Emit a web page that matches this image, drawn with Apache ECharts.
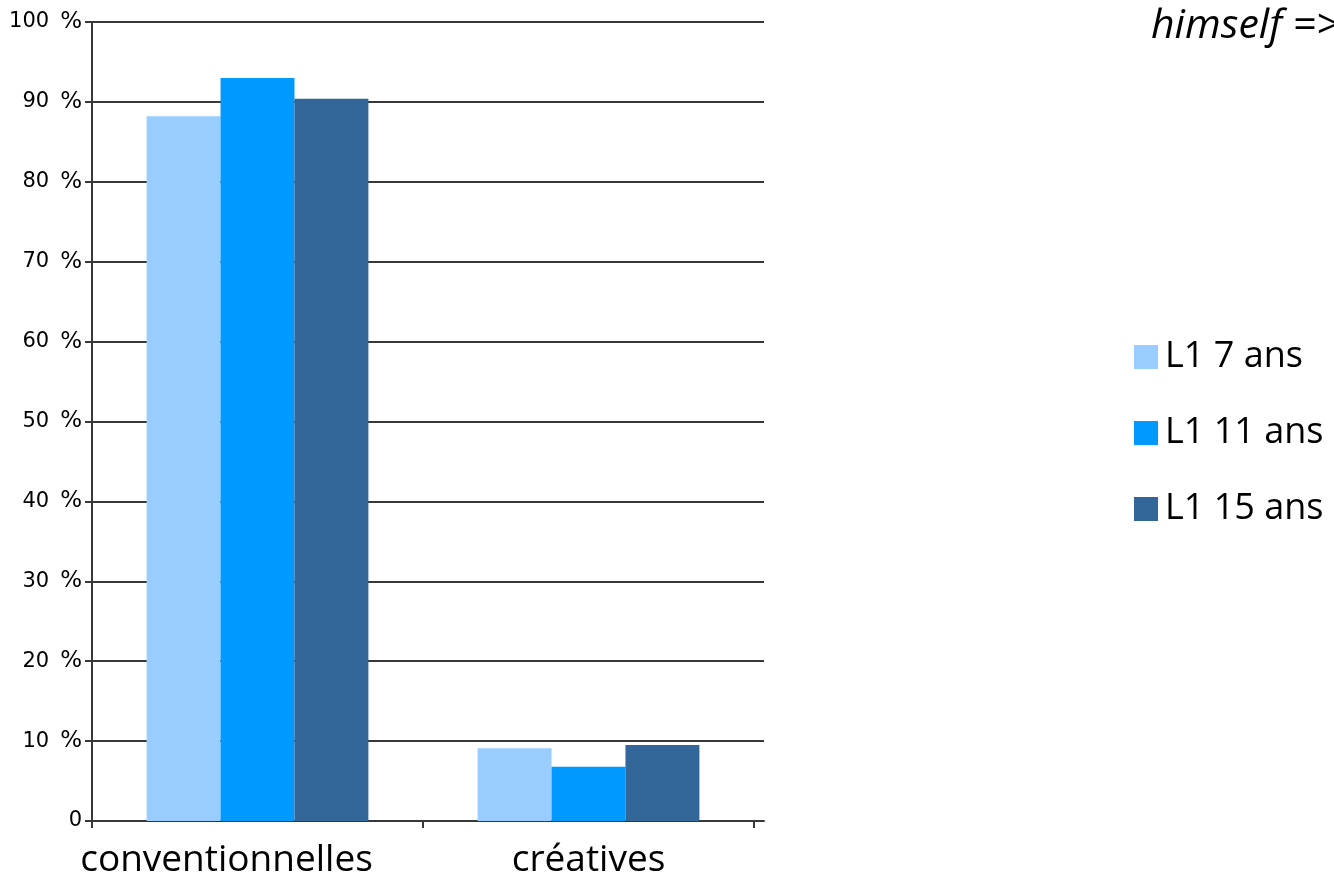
<!DOCTYPE html>
<html>
<head>
<meta charset="utf-8">
<script src="https://cdn.jsdelivr.net/npm/echarts@6/dist/echarts.min.js"></script>
<style>html,body{margin:0;padding:0;background:#fff;}#c{width:1334px;height:877px;}</style>
</head>
<body>
<div id="c"></div>
<script>
const categories = ['conventionnelles', 'créatives'];
const seriesNames = ['L1 7 ans', 'L1 11 ans', 'L1 15 ans'];
const l1_7ans = [88.2, 9.1];
const l1_11ans = [93.0, 6.8];
const l1_15ans = [90.4, 9.5];
const yTicks = [0, 10, 20, 30, 40, 50, 60, 70, 80, 90, 100];
const titleText = 'himself =>';

const colors = ['#99ccff', '#0099ff', '#336699'];
const lineColor = '#383838';
const chart = echarts.init(document.getElementById('c'));
const values = [l1_7ans, l1_11ans, l1_15ans];

chart.setOption({
  animation: false,
  title: {
    text: titleText, left: 1146, top: 1,
    textStyle: { fontFamily: 'Open Sans', fontStyle: 'italic', fontWeight: 'normal', fontSize: 41, color: '#000' }
  },
  legend: {
    orient: 'vertical', left: 1129, top: 334,
    itemWidth: 24, itemHeight: 24, itemGap: 40,
    icon: 'rect',
    data: seriesNames,
    textStyle: { fontFamily: 'Open Sans', fontSize: 36, color: '#000', padding: [0, 0, 0, 2] }
  },
  grid: [
    { left: 92, right: 580, top: 22, bottom: 56, outerBoundsMode: 'none', containLabel: false },
    { left: 754, width: 10, top: 22, bottom: 56, outerBoundsMode: 'none', containLabel: false }
  ],
  xAxis: [
    {
      type: 'category', gridIndex: 0,
      data: categories.map((c, i) => i === 0 ? { value: c, textStyle: { padding: [0, 62, 0, 0] } } : c),
      axisLine: { lineStyle: { color: lineColor, width: 2 } },
      axisTick: { show: true, length: 7, lineStyle: { color: lineColor, width: 2 } },
      axisLabel: { fontFamily: 'Open Sans', fontSize: 37, color: '#000', margin: 21, interval: 0 }
    },
    {
      type: 'value', gridIndex: 1, min: 0, max: 1,
      axisLine: { show: true, lineStyle: { color: lineColor, width: 2 } },
      axisTick: { show: false }, axisLabel: { show: false }, splitLine: { show: false }
    }
  ],
  yAxis: [
    {
      type: 'value', gridIndex: 0, min: yTicks[0], max: yTicks[yTicks.length - 1], interval: 10,
      axisLine: { show: true, lineStyle: { color: lineColor, width: 2 } },
      axisTick: { show: true, length: 7, lineStyle: { color: lineColor, width: 2 } },
      splitLine: { show: true, lineStyle: { color: lineColor, width: 2 } },
      axisLabel: {
        margin: 10, color: '#000', fontFamily: 'DejaVu Sans', fontSize: 21,
        formatter: v => v === 0 ? '{n|0}' : '{n|' + v + '}{p|%}',
        rich: {
          n: { fontFamily: 'DejaVu Sans', fontSize: 21, color: '#000' },
          p: { fontFamily: 'DejaVu Sans', fontSize: 23, color: '#000', padding: [0, 0, 0, 11] }
        }
      }
    },
    {
      type: 'value', gridIndex: 1, min: yTicks[0], max: yTicks[yTicks.length - 1], interval: 10,
      axisLine: { show: false }, axisTick: { show: false }, axisLabel: { show: false },
      splitLine: { show: true, lineStyle: { color: lineColor, width: 2 } }
    }
  ],
  series: seriesNames.map((name, i) => ({
    name, type: 'bar', xAxisIndex: 0, yAxisIndex: 0,
    data: values[i],
    barGap: '0%', barCategoryGap: '33%',
    itemStyle: { color: colors[i] }
  }))
});
</script>
</body>
</html>
